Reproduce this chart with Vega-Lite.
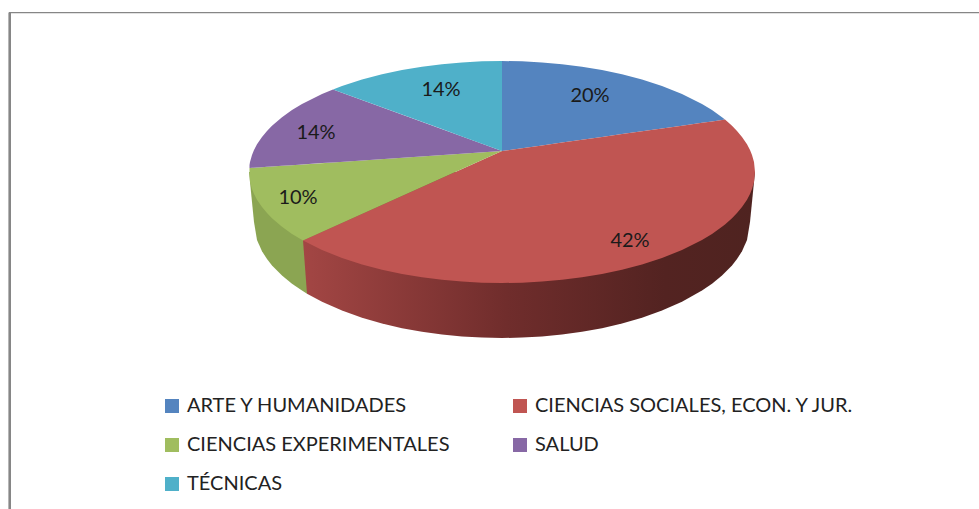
{
"$schema":"https://vega.github.io/schema/vega-lite/v6.json",
"width":979,"height":509,"padding":0,"autosize":{"type":"none"},"background":"white",
"view":{"stroke":null},
"config":{"font":"Lato"},
"datasets":{
"marco":[{"x":9.7,"x2":9.7,"y":12.5,"y2":509,"w":"v"},{"x":9,"x2":979,"y":12.6,"y2":12.6,"w":"h"}],
"paredVerde":[{"x":249,"y":172,"y2":172},{"x":254,"y":222,"y2":172},{"x":257,"y":240,"y2":172},{"x":262,"y":251.2,"y2":172},{"x":267,"y":259.1,"y2":172},{"x":272,"y":265.4,"y2":172},{"x":282,"y":275.5,"y2":172},{"x":292,"y":283.7,"y2":172},{"x":302,"y":290.6,"y2":172},{"x":307,"y":293.7,"y2":172}],
"paredRoja":[{"x":303,"y":240.5,"y2":172},{"x":307,"y":293.7,"y2":172},{"x":322,"y":301.8,"y2":172},{"x":342,"y":310.6,"y2":172},{"x":362,"y":317.7,"y2":172},{"x":382,"y":323.5,"y2":172},{"x":402,"y":328.2,"y2":172},{"x":422,"y":331.8,"y2":172},{"x":442,"y":334.6,"y2":172},{"x":462,"y":336.5,"y2":172},{"x":482,"y":337.6,"y2":172},{"x":502,"y":338,"y2":172},{"x":522,"y":337.6,"y2":172},{"x":542,"y":336.5,"y2":172},{"x":562,"y":334.6,"y2":172},{"x":582,"y":331.8,"y2":172},{"x":602,"y":328.2,"y2":172},{"x":622,"y":323.5,"y2":172},{"x":642,"y":317.7,"y2":172},{"x":662,"y":310.6,"y2":172},{"x":682,"y":301.8,"y2":172},{"x":702,"y":290.6,"y2":172},{"x":712,"y":283.7,"y2":172},{"x":722,"y":275.5,"y2":172},{"x":732,"y":265.4,"y2":172},{"x":737,"y":259.1,"y2":172},{"x":742,"y":251.2,"y2":172},{"x":747,"y":240,"y2":172},{"x":750,"y":222,"y2":172},{"x":755,"y":172,"y2":172}],
"sectores":[
{"c":"ARTE Y HUMANIDADES","x":502,"y":61,"y2":151},{"c":"ARTE Y HUMANIDADES","x":522,"y":61.35,"y2":148.2},{"c":"ARTE Y HUMANIDADES","x":542,"y":62.4,"y2":145.4},{"c":"ARTE Y HUMANIDADES","x":562,"y":64.2,"y2":142.6},{"c":"ARTE Y HUMANIDADES","x":582,"y":66.7,"y2":139.7},{"c":"ARTE Y HUMANIDADES","x":602,"y":70,"y2":136.9},{"c":"ARTE Y HUMANIDADES","x":622,"y":74.3,"y2":134.1},{"c":"ARTE Y HUMANIDADES","x":642,"y":79.5,"y2":131.3},{"c":"ARTE Y HUMANIDADES","x":662,"y":86,"y2":128.5},{"c":"ARTE Y HUMANIDADES","x":682,"y":94,"y2":125.7},{"c":"ARTE Y HUMANIDADES","x":702,"y":104,"y2":122.8},{"c":"ARTE Y HUMANIDADES","x":712,"y":110.1,"y2":121.4},{"c":"ARTE Y HUMANIDADES","x":722,"y":117.2,"y2":120},{"c":"ARTE Y HUMANIDADES","x":725,"y":119.6,"y2":119.6},
{"c":"CIENCIAS SOCIALES, ECON. Y JUR.","x":303,"y":240.5,"y2":240.5},{"c":"CIENCIAS SOCIALES, ECON. Y JUR.","x":322,"y":232,"y2":250},{"c":"CIENCIAS SOCIALES, ECON. Y JUR.","x":342,"y":223,"y2":258},{"c":"CIENCIAS SOCIALES, ECON. Y JUR.","x":362,"y":214,"y2":264.5},{"c":"CIENCIAS SOCIALES, ECON. Y JUR.","x":382,"y":205,"y2":269.7},{"c":"CIENCIAS SOCIALES, ECON. Y JUR.","x":402,"y":196,"y2":274},{"c":"CIENCIAS SOCIALES, ECON. Y JUR.","x":422,"y":187,"y2":277.3},{"c":"CIENCIAS SOCIALES, ECON. Y JUR.","x":442,"y":178,"y2":279.8},{"c":"CIENCIAS SOCIALES, ECON. Y JUR.","x":462,"y":169,"y2":281.6},{"c":"CIENCIAS SOCIALES, ECON. Y JUR.","x":482,"y":160,"y2":282.65},{"c":"CIENCIAS SOCIALES, ECON. Y JUR.","x":502,"y":151,"y2":283},{"c":"CIENCIAS SOCIALES, ECON. Y JUR.","x":522,"y":148.2,"y2":282.65},{"c":"CIENCIAS SOCIALES, ECON. Y JUR.","x":542,"y":145.4,"y2":281.6},{"c":"CIENCIAS SOCIALES, ECON. Y JUR.","x":562,"y":142.6,"y2":279.8},{"c":"CIENCIAS SOCIALES, ECON. Y JUR.","x":582,"y":139.7,"y2":277.3},{"c":"CIENCIAS SOCIALES, ECON. Y JUR.","x":602,"y":136.9,"y2":274},{"c":"CIENCIAS SOCIALES, ECON. Y JUR.","x":622,"y":134.1,"y2":269.7},{"c":"CIENCIAS SOCIALES, ECON. Y JUR.","x":642,"y":131.3,"y2":264.5},{"c":"CIENCIAS SOCIALES, ECON. Y JUR.","x":662,"y":128.5,"y2":258},{"c":"CIENCIAS SOCIALES, ECON. Y JUR.","x":682,"y":125.7,"y2":250},{"c":"CIENCIAS SOCIALES, ECON. Y JUR.","x":702,"y":122.8,"y2":240},{"c":"CIENCIAS SOCIALES, ECON. Y JUR.","x":712,"y":121.4,"y2":233.9},{"c":"CIENCIAS SOCIALES, ECON. Y JUR.","x":722,"y":120,"y2":226.8},{"c":"CIENCIAS SOCIALES, ECON. Y JUR.","x":725,"y":119.6,"y2":224.4},{"c":"CIENCIAS SOCIALES, ECON. Y JUR.","x":732,"y":125.8,"y2":218.2},{"c":"CIENCIAS SOCIALES, ECON. Y JUR.","x":737,"y":130.9,"y2":213.1},{"c":"CIENCIAS SOCIALES, ECON. Y JUR.","x":742,"y":136.9,"y2":207.1},{"c":"CIENCIAS SOCIALES, ECON. Y JUR.","x":747,"y":144.3,"y2":199.7},{"c":"CIENCIAS SOCIALES, ECON. Y JUR.","x":750,"y":150,"y2":194},{"c":"CIENCIAS SOCIALES, ECON. Y JUR.","x":752,"y":155,"y2":189},{"c":"CIENCIAS SOCIALES, ECON. Y JUR.","x":754,"y":162.1,"y2":181.9},{"c":"CIENCIAS SOCIALES, ECON. Y JUR.","x":755,"y":172,"y2":172},
{"c":"CIENCIAS EXPERIMENTALES","x":249.5,"y":168,"y2":172},{"c":"CIENCIAS EXPERIMENTALES","x":250,"y":167.9,"y2":181.9},{"c":"CIENCIAS EXPERIMENTALES","x":252,"y":167.8,"y2":189},{"c":"CIENCIAS EXPERIMENTALES","x":254,"y":167.7,"y2":194},{"c":"CIENCIAS EXPERIMENTALES","x":257,"y":167.5,"y2":199.7},{"c":"CIENCIAS EXPERIMENTALES","x":262,"y":167.2,"y2":207.1},{"c":"CIENCIAS EXPERIMENTALES","x":267,"y":166.8,"y2":213.1},{"c":"CIENCIAS EXPERIMENTALES","x":272,"y":166.5,"y2":218.2},{"c":"CIENCIAS EXPERIMENTALES","x":282,"y":165.8,"y2":226.8},{"c":"CIENCIAS EXPERIMENTALES","x":292,"y":165.2,"y2":233.9},{"c":"CIENCIAS EXPERIMENTALES","x":303,"y":164.4,"y2":240.5},{"c":"CIENCIAS EXPERIMENTALES","x":502,"y":151,"y2":151},
{"c":"SALUD","x":249.5,"y":165,"y2":168},{"c":"SALUD","x":250,"y":162.1,"y2":167.9},{"c":"SALUD","x":252,"y":155,"y2":167.8},{"c":"SALUD","x":254,"y":150,"y2":167.7},{"c":"SALUD","x":257,"y":144.3,"y2":167.5},{"c":"SALUD","x":262,"y":136.9,"y2":167.2},{"c":"SALUD","x":267,"y":130.9,"y2":166.8},{"c":"SALUD","x":272,"y":125.8,"y2":166.5},{"c":"SALUD","x":282,"y":117.2,"y2":165.8},{"c":"SALUD","x":292,"y":110.1,"y2":165.2},{"c":"SALUD","x":302,"y":104,"y2":164.4},{"c":"SALUD","x":322,"y":94,"y2":163.1},{"c":"SALUD","x":333,"y":89.4,"y2":162.4},{"c":"SALUD","x":502,"y":151,"y2":151},
{"c":"TÉCNICAS","x":333,"y":89.4,"y2":89.4},{"c":"TÉCNICAS","x":342,"y":86,"y2":92.7},{"c":"TÉCNICAS","x":362,"y":79.5,"y2":100},{"c":"TÉCNICAS","x":382,"y":74.3,"y2":107.3},{"c":"TÉCNICAS","x":402,"y":70,"y2":114.5},{"c":"TÉCNICAS","x":422,"y":66.7,"y2":121.8},{"c":"TÉCNICAS","x":442,"y":64.2,"y2":129.1},{"c":"TÉCNICAS","x":462,"y":62.4,"y2":136.4},{"c":"TÉCNICAS","x":482,"y":61.35,"y2":143.7},{"c":"TÉCNICAS","x":502,"y":61,"y2":151}
],
"etiquetas":[
{"c":"ARTE Y HUMANIDADES","pct":"20%","x":590,"y":96},
{"c":"CIENCIAS SOCIALES, ECON. Y JUR.","pct":"42%","x":630,"y":241},
{"c":"CIENCIAS EXPERIMENTALES","pct":"10%","x":298,"y":198},
{"c":"SALUD","pct":"14%","x":316,"y":133},
{"c":"TÉCNICAS","pct":"14%","x":441,"y":90}
]},
"encoding":{
"x":{"field":"x","type":"quantitative","axis":null,"scale":{"domain":[0,979],"nice":false,"zero":false}},
"y":{"field":"y","type":"quantitative","axis":null,"scale":{"domain":[509,0],"nice":false,"zero":false}}
},
"layer":[
{"data":{"name":"marco"},"transform":[{"filter":"datum.w=='v'"}],"mark":{"type":"rule","color":"#868686","strokeWidth":2.6},"encoding":{"y2":{"field":"y2"}}},
{"data":{"name":"marco"},"transform":[{"filter":"datum.w=='h'"}],"mark":{"type":"rule","color":"#868686","strokeWidth":1.3},"encoding":{"x2":{"field":"x2"}}},
{"data":{"name":"paredVerde"},"mark":{"type":"area","color":"#8ba552"},"encoding":{"y2":{"field":"y2"}}},
{"data":{"name":"paredRoja"},"mark":{"type":"area","color":{"gradient":"linear","x1":0,"y1":0,"x2":1,"y2":0,"stops":[{"offset":0,"color":"#a34644"},{"offset":0.45,"color":"#702d2c"},{"offset":0.8,"color":"#532321"},{"offset":1,"color":"#4f2320"}]}},"encoding":{"y2":{"field":"y2"}}},
{"data":{"name":"sectores"},"mark":{"type":"area"},"encoding":{
"y2":{"field":"y2"},
"color":{"field":"c","type":"nominal","scale":{"domain":["ARTE Y HUMANIDADES","CIENCIAS SOCIALES, ECON. Y JUR.","CIENCIAS EXPERIMENTALES","SALUD","TÉCNICAS"],"range":["#5484bf","#c05552","#a0bd5f","#8768a5","#4fb0c9"]},
"legend":{"title":null,"orient":"none","direction":"horizontal","legendX":162,"legendY":396,"columns":2,"symbolType":"square","symbolSize":196,"labelFontSize":20,"labelFont":"Lato","labelColor":"#222222","labelOffset":5,"rowPadding":19,"columnPadding":60,"labelLimit":500,"symbolStrokeWidth":0,"symbolOpacity":1}}
}},
{"data":{"name":"etiquetas"},"mark":{"type":"text","font":"Lato","fontSize":20,"color":"#1a1a1a","align":"center","baseline":"middle"},"encoding":{"text":{"field":"pct"}}}
]
}
